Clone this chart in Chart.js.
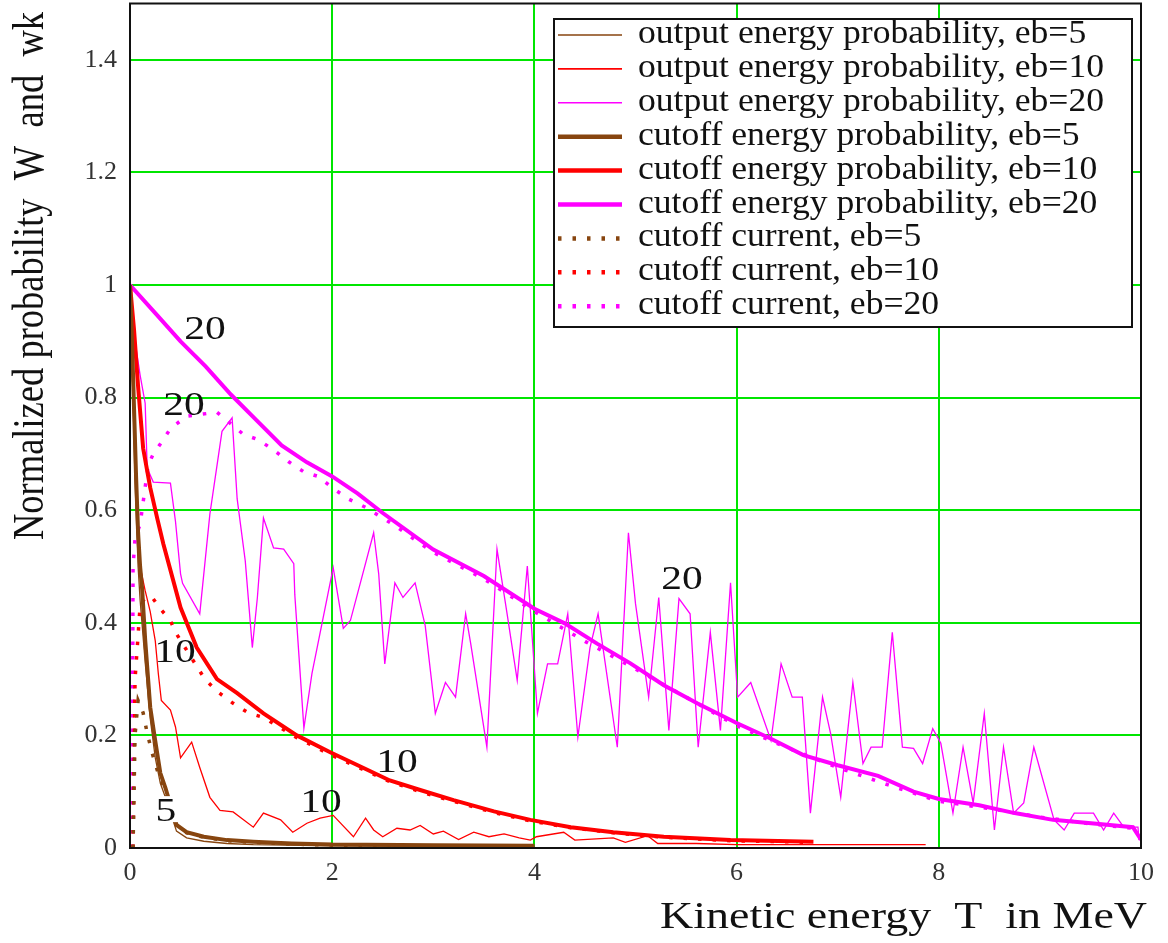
<!DOCTYPE html>
<html><head><meta charset="utf-8">
<script src="https://cdn.jsdelivr.net/npm/chart.js@4.4.1/dist/chart.umd.min.js"></script>
<style>html,body{margin:0;padding:0;background:#fff;}#wrap{width:1168px;height:943px;}</style>
</head><body><div id="wrap"><canvas id="c" width="1168" height="943"></canvas></div>
<script>
const xTicks = [0, 2, 4, 6, 8, 10];
const yTicks = [0, 0.2, 0.4, 0.6, 0.8, 1, 1.2, 1.4];
const seriesLabels = [
  'output energy probability, eb=5', 'output energy probability, eb=10', 'output energy probability, eb=20',
  'cutoff energy probability, eb=5', 'cutoff energy probability, eb=10', 'cutoff energy probability, eb=20',
  'cutoff current, eb=5', 'cutoff current, eb=10', 'cutoff current, eb=20'];
const xTitle = 'Kinetic energy  T  in MeV';
const yTitle = 'Normalized probability  W  and  wk';

const out5X = [0,0.03,0.05,0.08,0.1,0.15,0.2,0.25,0.3,0.35,0.46,0.56,0.73,0.96,1.22,2,3,4];
const out5Y = [0.95,0.8,0.65,0.5,0.44,0.33,0.23,0.16,0.115,0.09,0.03,0.018,0.012,0.008,0.006,0.004,0.003,0.003];
const out10X = [0,0.03,0.06,0.1,0.15,0.2,0.25,0.28,0.31,0.4,0.45,0.5,0.61,0.69,0.79,0.89,1.02,1.22,1.32,1.49,1.61,1.75,1.88,2.01,2.21,2.33,2.41,2.5,2.64,2.77,2.87,3,3.1,3.25,3.4,3.55,3.7,3.85,3.96,4.02,4.29,4.4,4.78,4.9,5.12,5.22,5.6,6,7,7.87];
const out10Y = [1,0.8,0.62,0.5,0.457,0.42,0.368,0.31,0.262,0.245,0.215,0.16,0.188,0.143,0.09,0.067,0.064,0.037,0.062,0.05,0.028,0.044,0.053,0.058,0.02,0.053,0.032,0.02,0.035,0.032,0.04,0.025,0.03,0.015,0.028,0.02,0.025,0.018,0.014,0.02,0.028,0.014,0.018,0.01,0.022,0.008,0.008,0.006,0.006,0.006];
const out20X = [0,0.05,0.1,0.15,0.17,0.23,0.4,0.45,0.5,0.52,0.69,0.79,0.91,1.01,1.06,1.14,1.21,1.26,1.32,1.42,1.52,1.62,1.63,1.72,1.8,2.01,2.11,2.18,2.41,2.46,2.52,2.62,2.7,2.82,2.92,3.02,3.12,3.22,3.32,3.37,3.53,3.63,3.73,3.83,3.93,4.03,4.13,4.23,4.33,4.43,4.55,4.63,4.82,4.93,5.0,5.13,5.23,5.33,5.43,5.54,5.62,5.74,5.84,5.94,6.01,6.14,6.34,6.44,6.55,6.65,6.73,6.85,6.93,7.03,7.15,7.25,7.33,7.44,7.54,7.64,7.75,7.84,7.94,8.02,8.14,8.24,8.34,8.45,8.55,8.64,8.74,8.84,8.94,9.14,9.24,9.34,9.53,9.63,9.73,9.83,9.97,9.98];
const out20Y = [1,0.9,0.84,0.79,0.675,0.65,0.648,0.58,0.487,0.47,0.416,0.593,0.74,0.764,0.62,0.51,0.356,0.445,0.586,0.533,0.531,0.505,0.45,0.213,0.31,0.498,0.39,0.404,0.56,0.487,0.327,0.471,0.445,0.471,0.395,0.239,0.294,0.268,0.416,0.363,0.179,0.531,0.416,0.298,0.501,0.239,0.327,0.327,0.416,0.197,0.356,0.416,0.179,0.56,0.434,0.268,0.445,0.209,0.443,0.416,0.179,0.383,0.209,0.471,0.268,0.294,0.191,0.327,0.268,0.268,0.062,0.268,0.203,0.09,0.294,0.15,0.179,0.179,0.383,0.179,0.177,0.15,0.212,0.186,0.062,0.179,0.08,0.239,0.032,0.179,0.062,0.08,0.179,0.05,0.032,0.062,0.062,0.032,0.062,0.037,0.037,0.014];
const cut5X = [0,0.02,0.04,0.06,0.08,0.1,0.12,0.15,0.2,0.25,0.3,0.35,0.46,0.56,0.73,0.96,1.22,1.6,2,3,4];
const cut5Y = [1,0.9,0.78,0.66,0.56,0.5,0.46,0.37,0.25,0.19,0.133,0.107,0.041,0.028,0.02,0.014,0.011,0.008,0.006,0.005,0.004];
const cut10X = [0,0.04,0.08,0.13,0.2,0.27,0.33,0.5,0.66,0.86,1.06,1.32,1.65,1.98,2.31,2.57,2.87,3.2,3.6,3.96,4.36,4.78,5.28,5.94,6.76];
const cut10Y = [1,0.92,0.82,0.71,0.64,0.585,0.54,0.427,0.356,0.3,0.275,0.239,0.2,0.17,0.142,0.12,0.103,0.085,0.065,0.05,0.037,0.028,0.02,0.014,0.011];
const cut20X = [0,0.25,0.5,0.75,1,1.25,1.5,1.75,2,2.25,2.5,3,3.5,4,4.3,4.62,4.95,5.28,5.61,6,6.33,6.66,7,7.4,7.75,8,8.4,8.75,9.13,9.56,9.92,10];
const cut20Y = [1,0.95,0.9,0.855,0.805,0.76,0.715,0.685,0.66,0.63,0.595,0.53,0.483,0.425,0.399,0.363,0.328,0.289,0.257,0.222,0.195,0.165,0.147,0.128,0.1,0.087,0.076,0.062,0.05,0.043,0.037,0.015];
const cur5X = [0.03,0.05,0.08,0.13,0.17,0.22,0.27,0.31,0.35,0.46,0.56,0.73,0.96,1.22,1.6,2,3,4];
const cur5Y = [0,0.2,0.262,0.24,0.204,0.168,0.138,0.12,0.1,0.04,0.027,0.019,0.013,0.01,0.007,0.005,0.004,0.003];
const cur10X = [0.03,0.05,0.1,0.15,0.22,0.3,0.4,0.45,0.67,0.74,0.87,1.02,1.17,1.32,1.65,1.98,2.31,2.57,2.87,3.2,3.6,3.96,4.36,4.78,5.28,5.94,6.76];
const cur10Y = [0,0.3,0.43,0.445,0.445,0.425,0.404,0.383,0.32,0.3,0.277,0.257,0.24,0.232,0.196,0.166,0.139,0.118,0.1,0.083,0.063,0.048,0.036,0.027,0.019,0.013,0.01];
const cur20X = [0.025,0.027,0.03,0.05,0.1,0.18,0.23,0.31,0.4,0.56,0.86,1.12,1.27,1.42,1.57,1.72,1.86,2,2.16,2.33,2.6,3,3.5,4,4.5,5,5.5,6,6.5,7,7.5,8,8.5,9,9.5,9.92];
const cur20Y = [0,0.3,0.5,0.55,0.575,0.68,0.7,0.72,0.745,0.767,0.774,0.735,0.725,0.707,0.686,0.668,0.66,0.64,0.62,0.605,0.575,0.525,0.478,0.42,0.367,0.318,0.268,0.217,0.178,0.143,0.112,0.083,0.07,0.055,0.043,0.035];

// curve annotations (text and data-space anchor)
const curveLabels = [
  {t:'20', x:0.742, y:0.925}, {t:'20', x:0.534, y:0.79}, {t:'20', x:5.46, y:0.48},
  {t:'10', x:0.445, y:0.35}, {t:'10', x:2.64, y:0.156}, {t:'10', x:1.89, y:0.085},
  {t:'5', x:0.356, y:0.069, bg:true}];

const BROWN = '#87450f', RED = '#ff0000', MAG = '#ff00ff';
const pts = (xs, ys) => xs.map((x, i) => ({x: x, y: ys[i]}));
const thin = 1.3, thick = 4, dotW = 3.5, dotDash = [3.5, 11];
function ds(i, xs, ys, color, w, dash, order) {
  return {label: seriesLabels[i], data: pts(xs, ys), borderColor: color, backgroundColor: color,
    borderWidth: w, borderDash: dash || [], pointRadius: 0, tension: 0, fill: false, order: order, borderCapStyle: 'butt'};
}
const datasets = [
  ds(0, out5X, out5Y, BROWN, thin, null, 3),
  ds(1, out10X, out10Y, RED, thin, null, 3),
  ds(2, out20X, out20Y, MAG, thin, null, 3),
  ds(3, cut5X, cut5Y, BROWN, thick, null, 1),
  ds(4, cut10X, cut10Y, RED, thick, null, 1),
  ds(5, cut20X, cut20Y, MAG, thick, null, 1),
  ds(6, cur5X, cur5Y, BROWN, dotW, dotDash, 2),
  ds(7, cur10X, cur10Y, RED, dotW, dotDash, 2),
  ds(8, cur20X, cur20Y, MAG, dotW, dotDash, 2)
];

const SERIF = '"Liberation Serif", "Times New Roman", serif';
const deco = {
  id: 'deco',
  afterDatasetsDraw(chart) {
    const {ctx, chartArea: a, scales: {x, y}} = chart;
    ctx.save();
    ctx.strokeStyle = '#111'; ctx.lineWidth = 2;
    ctx.strokeRect(a.left, a.top, a.right - a.left, a.bottom - a.top);
    // curve labels
    ctx.font = '34px ' + SERIF;
    for (const L of curveLabels) {
      const px = x.getPixelForValue(L.x), py = y.getPixelForValue(L.y);
      const w = ctx.measureText(L.t).width * 1.22;
      if (L.bg) {
        ctx.fillStyle = '#fff';
        ctx.fillRect(px - w / 2 - 2, py - 13, w + 4, 26);
      }
      ctx.save();
      ctx.fillStyle = '#111'; ctx.textAlign = 'center'; ctx.textBaseline = 'alphabetic';
      ctx.translate(px, py + 11.5); ctx.scale(1.22, 1);
      ctx.fillText(L.t, 0, 0);
      ctx.restore();
    }
    // legend
    const bx = 554, by = 19, bw = 578, bh = 308;
    ctx.fillStyle = '#fff'; ctx.fillRect(bx, by, bw, bh);
    ctx.strokeStyle = '#111'; ctx.lineWidth = 2; ctx.strokeRect(bx, by, bw, bh);
    ctx.font = '33px ' + SERIF;
    const sx = 466 / ctx.measureText(seriesLabels[1]).width;
    chart.data.datasets.forEach((d, i) => {
      const cy = 35 + i * 33.9;
      ctx.save();
      ctx.strokeStyle = d.borderColor;
      ctx.lineWidth = d.borderWidth === thin ? 1.6 : 4.5;
      ctx.setLineDash(d.borderDash.length ? [3.5, 11] : []);
      ctx.beginPath(); ctx.moveTo(558, cy); ctx.lineTo(622, cy); ctx.stroke();
      ctx.restore();
      ctx.save();
      ctx.fillStyle = '#111'; ctx.textAlign = 'left'; ctx.textBaseline = 'alphabetic';
      ctx.translate(638, cy + 8); ctx.scale(sx, 1);
      ctx.fillText(d.label, 0, 0);
      ctx.restore();
    });
    ctx.restore();
  },
  afterDraw(chart) {
    const ctx = chart.ctx;
    ctx.save();
    ctx.fillStyle = '#111';
    ctx.textBaseline = 'alphabetic'; ctx.textAlign = 'left';
    ctx.font = '38px ' + SERIF;
    let w = ctx.measureText(xTitle).width;
    ctx.save(); ctx.translate(660, 928); ctx.scale(487 / w, 1); ctx.fillText(xTitle, 0, 0); ctx.restore();
    ctx.font = '36px ' + SERIF;
    w = ctx.measureText(yTitle).width;
    ctx.save(); ctx.translate(43, 540); ctx.rotate(-Math.PI / 2); ctx.scale(528 / w, 1.24); ctx.fillText(yTitle, 0, 0); ctx.restore();
    ctx.restore();
  }
};

new Chart(document.getElementById('c'), {
  type: 'line',
  data: {datasets: datasets},
  options: {
    responsive: false, animation: false, devicePixelRatio: 1,
    layout: {padding: {left: 0, right: 27, top: 3.5, bottom: 0}},
    plugins: {legend: {display: false}, tooltip: {enabled: false}},
    scales: {
      x: {
        type: 'linear', min: 0, max: 10,
        afterBuildTicks: s => { s.ticks = xTicks.map(v => ({value: v})); },
        afterFit: s => { s.height = 95; s.paddingLeft = 0; s.paddingRight = 0; },
        grid: {color: '#00e600', lineWidth: 2, drawTicks: false},
        border: {display: false},
        ticks: {font: {family: SERIF, size: 26}, color: '#333', padding: 10, maxRotation: 0, autoSkip: false,
          callback: v => String(v)}
      },
      y: {
        type: 'linear', min: 0, max: 1.5,
        afterBuildTicks: s => { s.ticks = yTicks.map(v => ({value: v})); },
        afterFit: s => { s.width = 130; s.paddingTop = 0; s.paddingBottom = 0; },
        grid: {color: '#00e600', lineWidth: 2, drawTicks: false},
        border: {display: false},
        ticks: {font: {family: SERIF, size: 26}, color: '#333', padding: 13, autoSkip: false,
          callback: v => String(Math.round(v * 10) / 10)}
      }
    }
  },
  plugins: [deco]
});
</script>
</body></html>
